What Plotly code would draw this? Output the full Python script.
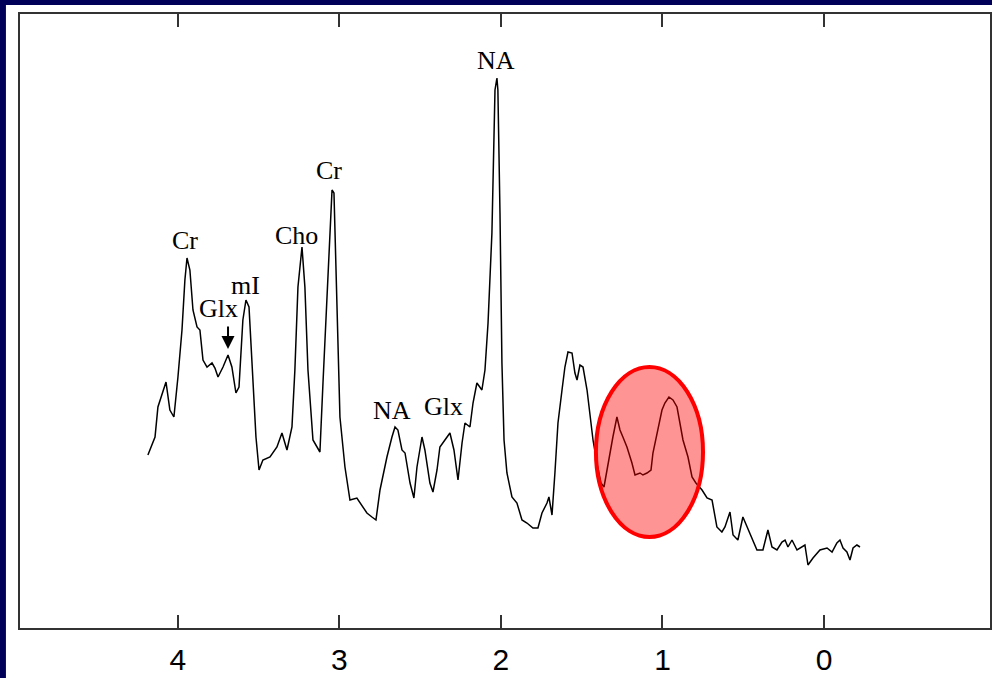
import plotly.graph_objects as go

# chemical shift (ppm) and signal intensity (arbitrary units)
ppm = [4.186, 4.142, 4.124, 4.093, 4.074, 4.050, 4.025, 4.000, 3.975, 3.957, 3.944, 3.926, 3.907, 3.882,
       3.864, 3.845, 3.820, 3.789, 3.771, 3.752, 3.721, 3.690, 3.666, 3.641, 3.622, 3.598, 3.579, 3.560,
       3.536, 3.517, 3.498, 3.474, 3.430, 3.387, 3.356, 3.325, 3.294, 3.276, 3.257, 3.232, 3.214, 3.195,
       3.164, 3.121, 3.102, 3.077, 3.065, 3.046, 3.034, 3.015, 2.997, 2.966, 2.935, 2.892, 2.861, 2.830,
       2.799, 2.774, 2.749, 2.706, 2.675, 2.656, 2.638, 2.613, 2.594, 2.563, 2.539, 2.520, 2.489, 2.471,
       2.440, 2.421, 2.396, 2.378, 2.347, 2.316, 2.291, 2.266, 2.241, 2.223, 2.192, 2.173, 2.149, 2.118,
       2.099, 2.080, 2.056, 2.050, 2.037, 2.025, 2.019, 2.006, 1.994, 1.981, 1.963, 1.932, 1.901, 1.870,
       1.839, 1.802, 1.771, 1.746, 1.715, 1.703, 1.684, 1.666, 1.647, 1.622, 1.604, 1.585, 1.560, 1.542,
       1.529, 1.511, 1.492, 1.467, 1.449, 1.430, 1.406, 1.381, 1.362, 1.337, 1.307, 1.282, 1.263, 1.245,
       1.220, 1.189, 1.170, 1.139, 1.121, 1.096, 1.071, 1.059, 1.034, 1.003, 0.985, 0.960, 0.935, 0.910,
       0.892, 0.873, 0.842, 0.817, 0.793, 0.755, 0.724, 0.693, 0.663, 0.632, 0.613, 0.582, 0.563, 0.533,
       0.502, 0.458, 0.415, 0.378, 0.347, 0.322, 0.291, 0.260, 0.241, 0.223, 0.198, 0.167, 0.136, 0.118,
       0.099, 0.068, 0.025, -0.019, -0.050, -0.080, -0.099, -0.118, -0.142, -0.161, -0.180, -0.204, -0.223]
intensity = [173, 191, 221, 238, 246, 218, 211, 251, 298, 348, 370, 358, 318, 301,
             298, 268, 261, 265, 260, 251, 261, 273, 261, 235, 241, 308, 328, 321,
             241, 191, 158, 168, 171, 181, 195, 178, 201, 258, 341, 381, 341, 258,
             188, 176, 245, 328, 378, 438, 435, 305, 211, 161, 128, 130, 123, 115,
             111, 108, 138, 171, 191, 201, 198, 178, 175, 145, 130, 161, 191, 178,
             145, 136, 158, 181, 188, 195, 178, 148, 185, 205, 201, 225, 245, 238,
             258, 305, 395, 451, 538, 550, 538, 415, 265, 188, 155, 131, 125, 108,
             105, 100, 100, 115, 125, 131, 113, 155, 205, 238, 261, 276, 275, 255,
             248, 263, 261, 238, 215, 188, 165, 145, 141, 165, 191, 211, 198, 191,
             181, 165, 153, 155, 153, 155, 158, 175, 195, 218, 225, 231, 228, 221,
             205, 188, 171, 151, 145, 138, 130, 128, 101, 96, 101, 116, 93, 88,
             111, 95, 78, 78, 98, 81, 78, 86, 88, 81, 88, 78, 81, 83,
             63, 70, 78, 80, 76, 85, 88, 80, 76, 68, 80, 83, 81]

# metabolite peak labels
label_text = ["Cr", "Glx", "mI", "Cho", "Cr", "NA", "Glx", "NA"]
label_ppm = [3.957, 3.752, 3.579, 3.269, 3.065, 2.675, 2.353, 2.031]
label_int = [388, 320, 343, 393, 458, 218, 222, 568]

# Glx arrow target
arrow_ppm = 3.690
arrow_int = 279

# highlighted lipid/lactate region
hl_ppm = [1.412, 0.749]
hl_int = [91, 261]

tick_vals = [4, 3, 2, 1, 0]
tick_text = ["4", "3", "2", "1", "0"]

fig = go.Figure()
fig.add_trace(go.Scatter(x=ppm, y=intensity, mode="lines",
                         line=dict(color="black", width=1.5), hoverinfo="skip"))

for t, xv, yv in zip(label_text, label_ppm, label_int):
    fig.add_annotation(x=xv, y=yv, text=t, showarrow=False,
                       font=dict(family="Liberation Serif", size=26, color="black"))

fig.add_annotation(x=arrow_ppm, y=arrow_int, text="", showarrow=True, ax=0, ay=-24,
                   arrowhead=2, arrowsize=1.3, arrowwidth=2, arrowcolor="black")

# white panel behind the chart
fig.add_shape(type="rect", xref="paper", yref="paper", x0=-0.0145, x1=1.1, y0=-0.3, y1=1.0147,
              fillcolor="white", line=dict(width=0), layer="below")

fig.add_shape(type="circle", xref="x", yref="y", x0=hl_ppm[0], x1=hl_ppm[1], y0=hl_int[0], y1=hl_int[1],
              fillcolor="rgba(255,0,0,0.42)", line=dict(color="#ff0000", width=4), layer="above")

fig.update_xaxes(range=[4.978, -1.028], tickvals=tick_vals, ticktext=tick_text,
                 ticks="inside", ticklen=13, tickwidth=1.5, tickcolor="#333",
                 showline=True, linecolor="#333", linewidth=1.5, mirror="ticks",
                 showgrid=False, zeroline=False, ticklabelstandoff=4, automargin=False,
                 tickfont=dict(family="Liberation Sans", size=30, color="black"))
fig.update_yaxes(range=[0, 614], showticklabels=False, ticks="", automargin=False,
                 showline=True, linecolor="#333", linewidth=1.5, mirror=True,
                 showgrid=False, zeroline=False)

fig.update_layout(width=992, height=678, margin=dict(l=20, r=2, t=14, b=50),
                  paper_bgcolor="#000058", plot_bgcolor="white", showlegend=False)

fig.write_html("out.html")
